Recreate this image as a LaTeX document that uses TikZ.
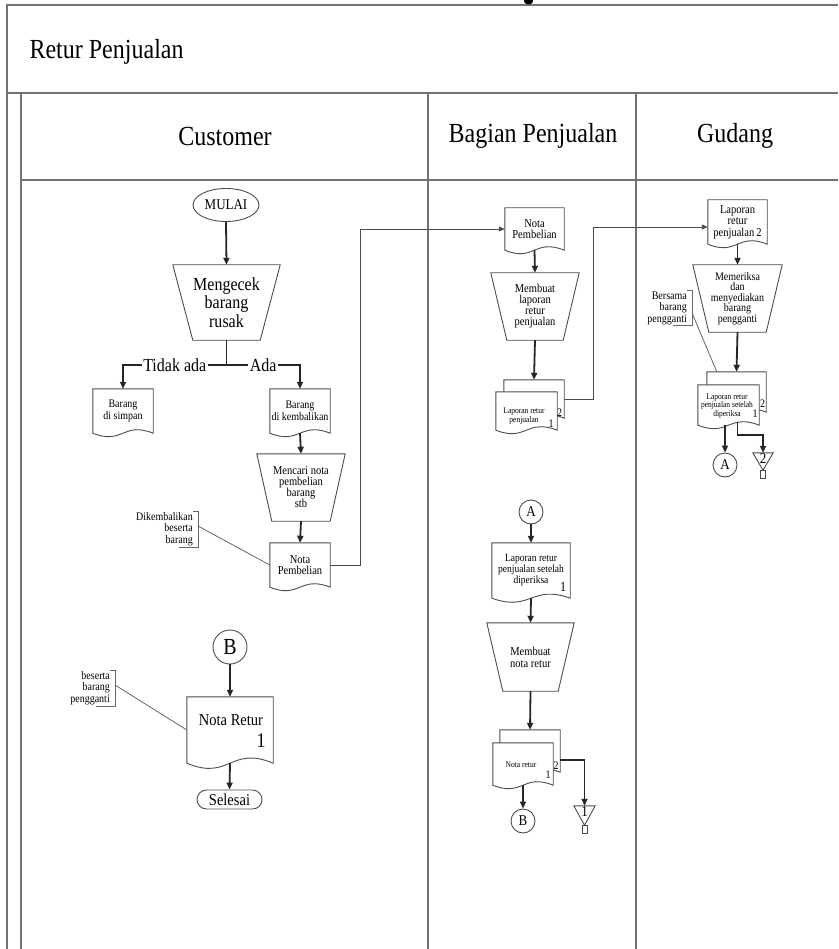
\documentclass[tikz,border=0pt]{standalone}
\usepackage{fontspec}
\setmainfont[FakeStretch=0.87]{Liberation Serif}
\usetikzlibrary{calc,arrows.meta,shapes.geometric}

% narrow serif: type size enlarged so the set width stays put
\newcommand\fs[2]{\fontsize{\fpeval{#1*1.15}}{#2}\selectfont}
% document symbol: straight top and sides, S-shaped bottom edge
\newcommand\docu[3][]{\draw[shapeline,#1] (#2.north west) -- (#2.north east) -- (#2.south east)
  .. controls ($(#2.south)+(0,-#3)$) and ($(#2.south)+(0,#3)$) .. (#2.south west) -- cycle;}
% manual operation symbol: trapezoid, wide side on top
\newcommand\trapz[2]{\draw[shapeline] (#1.north west) -- (#1.north east)
  -- ($(#1.south east)+(-#2,0)$) -- ($(#1.south west)+(#2,0)$) -- cycle;}
% annotation bracket on the right of a note
\newcommand\notebracket[1]{\draw[noteline] (#1.north east) -- ++(5,0)
  -- ($(#1.south east)+(5,0)$) -- ($(#1.south east)+(-14,0)$);}
% off-line storage symbol with its small tab
\newcommand\offpage[1]{\draw[shapeline] (#1.north west) -- (#1.north east) -- (#1.south) -- cycle;
  \draw[shapeline] ($(#1.south)+(-2.5,0)$) rectangle ($(#1.south)+(2.5,8)$);}

\tikzset{
  laneline/.style={draw=black!55, line width=1.4pt},
  shapeline/.style={draw=black!70, line width=0.9pt},
  flowline/.style={draw=black!85, line width=1.8pt, -{Triangle[length=7pt,width=6pt]}},
  plainflow/.style={draw=black!85, line width=1.8pt},
  linkline/.style={draw=black!70, line width=0.9pt, -{Triangle[length=6pt,width=5pt]}},
  noteline/.style={draw=black!60, line width=0.8pt},
  shapebox/.style={rectangle, inner sep=0pt, align=center},
  txt/.style={inner sep=0pt, align=center},
  hdr/.style={font=\fs{24}{28}},
  branchlbl/.style={fill=white, inner sep=1.5pt, font=\fs{16}{18}},
  notetxt/.style={inner xsep=0pt, inner ysep=1pt, align=right, anchor=east, font=\fs{10}{11.5}},
  conn/.style={circle, draw=black!70, line width=0.9pt, minimum size=24pt, inner sep=0pt, font=\fs{13}{14}},
}

\begin{document}
\begin{tikzpicture}[x=1pt,y=-1pt]
\useasboundingbox (0,0) rectangle (838,949);

% swimlane frame
\draw[laneline] (7,949) -- (7,5) -- (838,5);
\draw[laneline] (7,93) -- (838,93);
\draw[laneline] (21,93) -- (21,949);
\draw[laneline] (21,180) -- (838,180);
\draw[laneline] (428,93) -- (428,949);
\draw[laneline] (636,93) -- (636,949);
% foot of a heading glyph cut by the top edge
\fill[black] (524,0) -- (533,0) -- (532.5,2.5) .. controls (531,5) and (526,5) .. (524.5,2.5) -- cycle;

\node[hdr, anchor=west] (title) at (26,52) {Retur Penjualan};
\node[hdr] (hcust) at (225,136) {Customer};
\node[hdr] (hbp) at (533,136) {Bagian Penjualan};
\node[hdr] (hgd) at (735,136) {Gudang};

% ---------------- Customer ----------------
\node[ellipse, draw=black!70, line width=0.9pt, minimum width=66pt, minimum height=33pt,
      inner sep=0pt, font=\fs{13}{14}] (mulai) at (226,205) {MULAI};
\node[shapebox, minimum width=107pt, minimum height=75pt, font=\fs{16}{18.5}] (cek) at (226.5,302.5) {Mengecek\\barang\\rusak};
\trapz{cek}{20}
\draw[flowline] (mulai.south) -- (cek.north);

\node[shapebox, minimum width=60pt, minimum height=44pt, font=\fs{10}{11.5}] (simpan) at (123,411) {Barang\\di simpan};
\docu{simpan}{12}
\node[shapebox, minimum width=60pt, minimum height=44pt, font=\fs{10}{11.5}] (kembali) at (300,411) {Barang\\di kembalikan};
\docu{kembali}{12}

\coordinate (jn) at (226.5,365);
\draw[plainflow] (cek.south) -- (jn);
\draw[flowline] (jn) -- node[branchlbl] {Tidak ada} (jn -| simpan) -- (simpan.north);
\draw[flowline] (jn) -- node[branchlbl] {Ada} (jn -| kembali) -- (kembali.north);

\node[shapebox, minimum width=88pt, minimum height=67pt, font=\fs{10.5}{11}] (cari) at (301,487.5) {Mencari nota\\pembelian\\barang\\stb};
\trapz{cari}{15}
\draw[flowline] (kembali.south) -- (cari.north);

\node[shapebox, minimum width=60pt, minimum height=44pt, font=\fs{10.5}{11.5}] (npc) at (300,565) {Nota\\Pembelian};
\docu{npc}{12}
\draw[flowline] (cari.south) -- (npc.north);

\node[notetxt] (ann1) at (193,529) {Dikembalikan\\beserta\\barang};
\notebracket{ann1}
\draw[noteline] ($(ann1.east)+(5,-3)$) -- (npc.west);

\node[conn, minimum size=34pt, font=\fs{20}{22}] (bc) at (230,647) {B};
\node[shapebox, minimum width=86pt, minimum height=66pt] (nrt) at (230,730) {};
\docu{nrt}{18}
\node[txt, font=\fs{14.5}{16}] (nrtt) at (231,720) {Nota Retur};
\node[txt, font=\fs{18}{20}] (nrtn) at (261,741) {1};
\draw[flowline] (bc.south) -- (nrt.north);

\node[rectangle, rounded corners=9.5pt, draw=black!70, line width=0.9pt, minimum width=65pt,
      minimum height=19pt, inner sep=0pt, font=\fs{14.5}{16}] (selesai) at (229.5,799.5) {Selesai};
\draw[flowline] (nrt.south) -- (selesai.north);

\node[notetxt] (ann2) at (110,688) {beserta\\barang\\pengganti};
\notebracket{ann2}
\draw[noteline] ($(ann2.east)+(5,-3)$) -- (nrt.west);

% ---------------- Bagian Penjualan ----------------
\node[shapebox, minimum width=59pt, minimum height=42pt, font=\fs{10.5}{11.5}] (npb) at (534.5,229) {Nota\\Pembelian};
\docu{npb}{12}
\draw[linkline] (npc.east) -- ++(30,0) |- (npb.west);

\node[shapebox, minimum width=88pt, minimum height=67pt, font=\fs{10.5}{11}] (mlr) at (535,306.5) {Membuat\\laporan\\retur\\penjualan};
\trapz{mlr}{16}
\draw[flowline] (npb.south) -- (mlr.north);

\node[shapebox, minimum width=60pt, minimum height=38pt] (lrbb) at (534,399) {};
\node[shapebox, minimum width=61pt, minimum height=38pt] (lrbf) at (526.5,411) {};
\docu[fill=white]{lrbb}{12}
\docu[fill=white]{lrbf}{12}
\node[txt, font=\fs{7.5}{8.5}] (lrbt) at (524,416) {Laporan retur\\penjualan};
\node[txt, font=\fs{10}{11}] (lrb1) at (551,424) {1};
\node[txt, font=\fs{10}{11}] (lrb2) at (559.5,413) {2};
\draw[flowline] (mlr.south) -- (lrbb.north);

\node[conn] (ab) at (531,512) {A};
\node[shapebox, minimum width=78pt, minimum height=55pt, font=\fs{9.5}{11}] (lrs) at (531,570.5) {Laporan retur\\penjualan setelah\\diperiksa};
\docu{lrs}{14}
\node[txt, font=\fs{12}{13}] (lrs1) at (563,587) {1};
\draw[flowline] (ab.south) -- (lrs.north);

\node[shapebox, minimum width=87pt, minimum height=68pt, font=\fs{10.5}{12}] (mnr) at (530.5,657) {Membuat\\nota retur};
\trapz{mnr}{16}
\draw[flowline] (lrs.south) -- (mnr.north);

\node[shapebox, minimum width=60pt, minimum height=42pt] (nrb) at (530,751) {};
\node[shapebox, minimum width=60pt, minimum height=42pt] (nrf) at (523,764) {};
\docu[fill=white]{nrb}{12}
\docu[fill=white]{nrf}{12}
\node[txt, font=\fs{7.5}{8.5}] (nrft) at (521,765) {Nota retur};
\node[txt, font=\fs{10}{11}] (nrf1) at (548,775) {1};
\node[txt, font=\fs{10}{11}] (nrf2) at (556,766) {2};
\draw[flowline] (mnr.south) -- (nrb.north);

\node[conn] (bb) at (523,821) {B};
\draw[flowline] (nrf.south) -- (bb.north);

\node[shapebox, minimum width=21pt, minimum height=19pt] (st1) at (584.5,815.5) {};
\offpage{st1}
\node[txt, font=\fs{13}{14}] (st1n) at (584.5,812) {1};
\draw[flowline] ($(nrb.east)+(0,9)$) -| (st1.north);

% ---------------- Gudang ----------------
\node[shapebox, minimum width=59pt, minimum height=44pt, font=\fs{10.5}{11.5}] (lrg) at (737.5,222) {Laporan\\retur\\penjualan\,2};
\docu{lrg}{12}
\draw[linkline] (lrbb.east) -- ++(29,0) |- ($(lrg.west)+(0,5)$);

\node[shapebox, minimum width=89pt, minimum height=67pt, font=\fs{10}{10.5}] (mem) at (737.5,298.5) {Memeriksa\\dan\\menyediakan\\barang\\pengganti};
\trapz{mem}{16}
\draw[flowline] (lrg.south) -- (mem.north);

\node[shapebox, minimum width=59pt, minimum height=40pt] (gb) at (736.5,392) {};
\node[shapebox, minimum width=61pt, minimum height=40pt] (gf) at (728.5,405) {};
\docu[fill=white]{gb}{12}
\docu[fill=white]{gf}{12}
\node[txt, font=\fs{7.5}{8.5}] (gft) at (727,406) {Laporan retur\\penjualan setelah\\diperiksa};
\node[txt, font=\fs{10}{11}] (gf1) at (755,414) {1};
\node[txt, font=\fs{10}{11}] (gf2) at (762.5,404) {2};
\draw[flowline] (mem.south) -- (gb.north);

\node[notetxt] (ann3) at (687,308) {Bersama\\barang\\pengganti};
\notebracket{ann3}
\draw[noteline] ($(ann3.east)+(5,5)$) -- ($(gb.north west)+(10,0)$);

\node[conn] (ag) at (725,465) {A};
\draw[flowline] (ag |- gf.south) -- (ag.north);

\node[shapebox, minimum width=20pt, minimum height=17pt] (st2) at (763,461.5) {};
\offpage{st2}
\node[txt, font=\fs{13}{14}] (st2n) at (763,458.5) {2};
\draw[flowline] ($(gf.south)+(9,-3)$) -- ++(0,13) -| (st2.north);

\end{tikzpicture}
\end{document}
